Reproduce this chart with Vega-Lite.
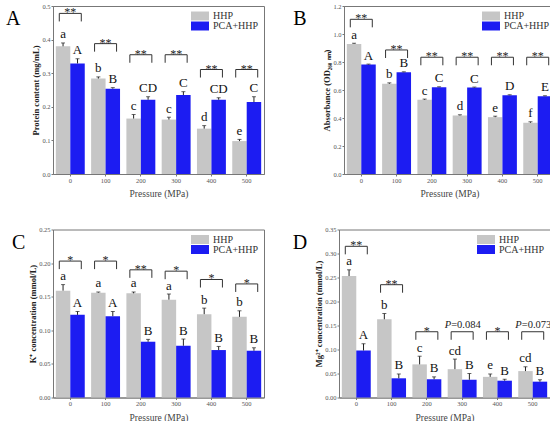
{
  "$schema": "https://vega.github.io/schema/vega-lite/v6.json",
  "padding": {"left": 5, "top": 2, "right": 3, "bottom": 0},
  "background": "white",
  "config": {
    "view": {"stroke": "#777", "strokeWidth": 1},
    "font": "Liberation Serif",
    "axis": {"labelFont": "Liberation Serif", "labelFontSize": 6.5, "labelColor": "#555", "titleFont": "Liberation Serif", "domainColor": "#777", "tickColor": "#777", "tickSize": 2, "grid": false, "labelOverlap": false},
    "axisY": {"titleFont": "Liberation Serif", "titleFontWeight": "bold", "titleFontSize": 8.5, "titleColor": "#222", "titlePadding": 1, "labelPadding": 1, "tickCount": 12},
    "axisX": {"titleFont": "Liberation Serif", "titleFontWeight": "normal", "titleFontSize": 9.5, "titleColor": "#444", "labelAngle": 0, "tickSize": 2, "titlePadding": 5, "labelPadding": 1},
    "legend": {"orient": "top-right", "offset": 5, "symbolType": "M-2,-1H2V1H-2Z", "symbolSize": 81, "labelFont": "Liberation Serif", "labelFontSize": 10, "labelColor": "#333", "rowPadding": 0, "symbolStrokeWidth": 0, "labelOffset": 8, "padding": 0},
    "title": {"orient": "left", "anchor": "end", "angle": 0, "align": "left", "baseline": "top", "dy": 6, "fontSize": 20, "font": "Liberation Serif", "fontWeight": "normal", "color": "#000"}
  },
  "datasets": {
    "Abar": [
      {"p": "0", "g": "HHP", "v": 0.38, "hi": 0.39, "lab": "a"},
      {"p": "0", "g": "PCA+HHP", "v": 0.329, "hi": 0.343, "lab": "A"},
      {"p": "100", "g": "HHP", "v": 0.284, "hi": 0.289, "lab": "b"},
      {"p": "100", "g": "PCA+HHP", "v": 0.254, "hi": 0.257, "lab": "B"},
      {"p": "200", "g": "HHP", "v": 0.165, "hi": 0.177, "lab": "c"},
      {"p": "200", "g": "PCA+HHP", "v": 0.221, "hi": 0.23, "lab": "CD"},
      {"p": "300", "g": "HHP", "v": 0.162, "hi": 0.169, "lab": "c"},
      {"p": "300", "g": "PCA+HHP", "v": 0.235, "hi": 0.245, "lab": "C"},
      {"p": "400", "g": "HHP", "v": 0.135, "hi": 0.144, "lab": "d"},
      {"p": "400", "g": "PCA+HHP", "v": 0.221, "hi": 0.227, "lab": "CD"},
      {"p": "500", "g": "HHP", "v": 0.098, "hi": 0.103, "lab": "e"},
      {"p": "500", "g": "PCA+HHP", "v": 0.214, "hi": 0.23, "lab": "C"}
    ],
    "Abr": [
      {"p": "0", "y": 0.478, "s": "**"},
      {"p": "100", "y": 0.388, "s": "**"},
      {"p": "200", "y": 0.355, "s": "**"},
      {"p": "300", "y": 0.355, "s": "**"},
      {"p": "400", "y": 0.311, "s": "**"},
      {"p": "500", "y": 0.311, "s": "**"}
    ],
    "Bbar": [
      {"p": "0", "g": "HHP", "v": 0.929, "hi": 0.934, "lab": "a"},
      {"p": "0", "g": "PCA+HHP", "v": 0.782, "hi": 0.785, "lab": "A"},
      {"p": "100", "g": "HHP", "v": 0.644, "hi": 0.651, "lab": "b"},
      {"p": "100", "g": "PCA+HHP", "v": 0.727, "hi": 0.73, "lab": "B"},
      {"p": "200", "g": "HHP", "v": 0.53, "hi": 0.535, "lab": "c"},
      {"p": "200", "g": "PCA+HHP", "v": 0.62, "hi": 0.623, "lab": "C"},
      {"p": "300", "g": "HHP", "v": 0.418, "hi": 0.423, "lab": "d"},
      {"p": "300", "g": "PCA+HHP", "v": 0.618, "hi": 0.621, "lab": "C"},
      {"p": "400", "g": "HHP", "v": 0.406, "hi": 0.413, "lab": "e"},
      {"p": "400", "g": "PCA+HHP", "v": 0.563, "hi": 0.566, "lab": "D"},
      {"p": "500", "g": "HHP", "v": 0.366, "hi": 0.373, "lab": "f"},
      {"p": "500", "g": "PCA+HHP", "v": 0.556, "hi": 0.559, "lab": "E"}
    ],
    "Bbr": [
      {"p": "0", "y": 1.105, "s": "**"},
      {"p": "100", "y": 0.886, "s": "**"},
      {"p": "200", "y": 0.834, "s": "**"},
      {"p": "300", "y": 0.834, "s": "**"},
      {"p": "400", "y": 0.834, "s": "**"},
      {"p": "500", "y": 0.834, "s": "**"}
    ],
    "Cbar": [
      {"p": "0", "g": "HHP", "v": 0.159, "hi": 0.168, "lab": "a"},
      {"p": "0", "g": "PCA+HHP", "v": 0.123, "hi": 0.128, "lab": "A"},
      {"p": "100", "g": "HHP", "v": 0.156, "hi": 0.157, "lab": "a"},
      {"p": "100", "g": "PCA+HHP", "v": 0.121, "hi": 0.128, "lab": "A"},
      {"p": "200", "g": "HHP", "v": 0.155, "hi": 0.157, "lab": "a"},
      {"p": "200", "g": "PCA+HHP", "v": 0.083, "hi": 0.0865, "lab": "B"},
      {"p": "300", "g": "HHP", "v": 0.1456, "hi": 0.154, "lab": "a"},
      {"p": "300", "g": "PCA+HHP", "v": 0.077, "hi": 0.087, "lab": "B"},
      {"p": "400", "g": "HHP", "v": 0.124, "hi": 0.133, "lab": "b"},
      {"p": "400", "g": "PCA+HHP", "v": 0.0706, "hi": 0.076, "lab": "B"},
      {"p": "500", "g": "HHP", "v": 0.12, "hi": 0.129, "lab": "b"},
      {"p": "500", "g": "PCA+HHP", "v": 0.0696, "hi": 0.074, "lab": "B"}
    ],
    "Cbr": [
      {"p": "0", "y": 0.203, "s": "*"},
      {"p": "100", "y": 0.203, "s": "*"},
      {"p": "200", "y": 0.19, "s": "**"},
      {"p": "300", "y": 0.188, "s": "*"},
      {"p": "400", "y": 0.1756, "s": "*"},
      {"p": "500", "y": 0.169, "s": "*"}
    ],
    "Dbar": [
      {"p": "0", "g": "HHP", "v": 0.253, "hi": 0.266, "lab": "a"},
      {"p": "0", "g": "PCA+HHP", "v": 0.098, "hi": 0.112, "lab": "A"},
      {"p": "100", "g": "HHP", "v": 0.163, "hi": 0.175, "lab": "b"},
      {"p": "100", "g": "PCA+HHP", "v": 0.04, "hi": 0.049, "lab": "B"},
      {"p": "200", "g": "HHP", "v": 0.069, "hi": 0.086, "lab": "c"},
      {"p": "200", "g": "PCA+HHP", "v": 0.038, "hi": 0.043, "lab": "B"},
      {"p": "300", "g": "HHP", "v": 0.059, "hi": 0.08, "lab": "cd"},
      {"p": "300", "g": "PCA+HHP", "v": 0.037, "hi": 0.05, "lab": "B"},
      {"p": "400", "g": "HHP", "v": 0.043, "hi": 0.049, "lab": "e"},
      {"p": "400", "g": "PCA+HHP", "v": 0.035, "hi": 0.038, "lab": "B"},
      {"p": "500", "g": "HHP", "v": 0.055, "hi": 0.064, "lab": "cd"},
      {"p": "500", "g": "PCA+HHP", "v": 0.033, "hi": 0.037, "lab": "B"}
    ],
    "Dbr": [
      {"p": "0", "y": 0.315, "s": "**"},
      {"p": "100", "y": 0.235, "s": "**"},
      {"p": "200", "y": 0.137, "s": "*"},
      {"p": "300", "y": 0.137, "s": "=0.084", "it": "P"},
      {"p": "400", "y": 0.137, "s": "*"},
      {"p": "500", "y": 0.137, "s": "=0.073", "it": "P"}
    ]
  },
  "resolve": {"scale": {"color": "independent"}, "legend": {"color": "independent"}},
  "spacing": 26.5,
  "vconcat": [
    {
      "spacing": 27,
      "resolve": {"scale": {"color": "independent"}, "legend": {"color": "independent"}},
      "hconcat": [
        {
          "width": 211, "height": 168,
          "title": {"text": "A", "offset": -3},
          "layer": [
            {"data": {"name": "Abar"}, "mark": {"type": "bar"},
             "encoding": {
               "x": {"field": "p", "type": "nominal", "sort": ["0","100","200","300","400","500"], "title": "Pressure (MPa)", "scale": {"paddingInner": 0.18, "paddingOuter": 0.08}},
               "xOffset": {"field": "g", "type": "nominal", "sort": ["HHP","PCA+HHP"]},
               "y": {"field": "v", "type": "quantitative", "title": "Protein content (mg/mL)", "scale": {"domain": [0, 0.5], "nice": false}, "axis": {"values": [0,0.1,0.2,0.3,0.4,0.5], "format": ".1f", "tickCount": 12}},
               "color": {"field": "g", "type": "nominal", "scale": {"domain": ["HHP","PCA+HHP"], "range": ["#c6c6c6", "#1c1cf2"]}, "legend": {"title": null}}
             }},
            {"data": {"name": "Abar"}, "mark": {"type": "rule", "color": "#222", "strokeWidth": 1},
             "encoding": {"x": {"field": "p", "type": "nominal"}, "xOffset": {"field": "g", "type": "nominal"}, "y": {"field": "v", "type": "quantitative", "scale": {"domain": [0, 0.5]}}, "y2": {"field": "hi"}}},
            {"data": {"name": "Abar"}, "mark": {"type": "tick", "color": "#222", "size": 4, "thickness": 1},
             "encoding": {"x": {"field": "p", "type": "nominal"}, "xOffset": {"field": "g", "type": "nominal"}, "y": {"field": "hi", "type": "quantitative", "scale": {"domain": [0, 0.5]}}}},
            {"data": {"name": "Abar"}, "mark": {"type": "text", "fontSize": 13, "baseline": "alphabetic", "dy": -4.5, "color": "#111"},
             "encoding": {"x": {"field": "p", "type": "nominal"}, "xOffset": {"field": "g", "type": "nominal"}, "y": {"field": "hi", "type": "quantitative", "scale": {"domain": [0, 0.5]}}, "text": {"field": "lab"}}},
            {"data": {"name": "Abr"}, "mark": {"type": "point", "shape": "M-1,0.73V0H1V0.73", "size": 484, "filled": false, "stroke": "#333", "strokeWidth": 1, "opacity": 1},
             "encoding": {"x": {"field": "p", "type": "nominal"}, "y": {"field": "y", "type": "quantitative", "scale": {"domain": [0, 0.5]}}}},
            {"data": {"name": "Abr"}, "mark": {"type": "text", "fontSize": 12, "baseline": "alphabetic", "dy": 3, "color": "#222"},
             "encoding": {"x": {"field": "p", "type": "nominal"}, "y": {"field": "y", "type": "quantitative", "scale": {"domain": [0, 0.5]}}, "text": {"field": "s"}}}
          ]
        },
        {
          "width": 211, "height": 168,
          "title": {"text": "B", "offset": 3},
          "layer": [
            {"data": {"name": "Bbar"}, "mark": {"type": "bar"},
             "encoding": {
               "x": {"field": "p", "type": "nominal", "sort": ["0","100","200","300","400","500"], "title": "Pressure (MPa)", "scale": {"paddingInner": 0.18, "paddingOuter": 0.08}},
               "xOffset": {"field": "g", "type": "nominal", "sort": ["HHP","PCA+HHP"]},
               "y": {"field": "v", "type": "quantitative", "title": "Absorbance (OD₂₆₀ ₙₘ)", "scale": {"domain": [0, 1.2], "nice": false}, "axis": {"values": [0,0.2,0.4,0.6,0.8,1.0,1.2], "format": ".1f", "tickCount": 12}},
               "color": {"field": "g", "type": "nominal", "scale": {"domain": ["HHP","PCA+HHP"], "range": ["#c6c6c6", "#1c1cf2"]}, "legend": {"title": null}}
             }},
            {"data": {"name": "Bbar"}, "mark": {"type": "rule", "color": "#222", "strokeWidth": 1},
             "encoding": {"x": {"field": "p", "type": "nominal"}, "xOffset": {"field": "g", "type": "nominal"}, "y": {"field": "v", "type": "quantitative", "scale": {"domain": [0, 1.2]}}, "y2": {"field": "hi"}}},
            {"data": {"name": "Bbar"}, "mark": {"type": "tick", "color": "#222", "size": 4, "thickness": 1},
             "encoding": {"x": {"field": "p", "type": "nominal"}, "xOffset": {"field": "g", "type": "nominal"}, "y": {"field": "hi", "type": "quantitative", "scale": {"domain": [0, 1.2]}}}},
            {"data": {"name": "Bbar"}, "mark": {"type": "text", "fontSize": 13, "baseline": "alphabetic", "dy": -4.5, "color": "#111"},
             "encoding": {"x": {"field": "p", "type": "nominal"}, "xOffset": {"field": "g", "type": "nominal"}, "y": {"field": "hi", "type": "quantitative", "scale": {"domain": [0, 1.2]}}, "text": {"field": "lab"}}},
            {"data": {"name": "Bbr"}, "mark": {"type": "point", "shape": "M-1,0.73V0H1V0.73", "size": 484, "filled": false, "stroke": "#333", "strokeWidth": 1, "opacity": 1},
             "encoding": {"x": {"field": "p", "type": "nominal"}, "y": {"field": "y", "type": "quantitative", "scale": {"domain": [0, 1.2]}}}},
            {"data": {"name": "Bbr"}, "mark": {"type": "text", "fontSize": 12, "baseline": "alphabetic", "dy": 3, "color": "#222"},
             "encoding": {"x": {"field": "p", "type": "nominal"}, "y": {"field": "y", "type": "quantitative", "scale": {"domain": [0, 1.2]}}, "text": {"field": "s"}}}
          ]
        }
      ]
    },
    {
      "spacing": 27,
      "resolve": {"scale": {"color": "independent"}, "legend": {"color": "independent"}},
      "hconcat": [
        {
          "width": 211, "height": 168,
          "title": {"text": "C", "offset": -10},
          "layer": [
            {"data": {"name": "Cbar"}, "mark": {"type": "bar"},
             "encoding": {
               "x": {"field": "p", "type": "nominal", "sort": ["0","100","200","300","400","500"], "title": "Pressure (MPa)", "scale": {"paddingInner": 0.18, "paddingOuter": 0.08}},
               "xOffset": {"field": "g", "type": "nominal", "sort": ["HHP","PCA+HHP"]},
               "y": {"field": "v", "type": "quantitative", "title": "K⁺ concentration (mmol/L)", "scale": {"domain": [0, 0.25], "nice": false}, "axis": {"values": [0,0.05,0.1,0.15,0.2,0.25], "format": ".2f", "tickCount": 12}},
               "color": {"field": "g", "type": "nominal", "scale": {"domain": ["HHP","PCA+HHP"], "range": ["#c6c6c6", "#1c1cf2"]}, "legend": {"title": null}}
             }},
            {"data": {"name": "Cbar"}, "mark": {"type": "rule", "color": "#222", "strokeWidth": 1},
             "encoding": {"x": {"field": "p", "type": "nominal"}, "xOffset": {"field": "g", "type": "nominal"}, "y": {"field": "v", "type": "quantitative", "scale": {"domain": [0, 0.25]}}, "y2": {"field": "hi"}}},
            {"data": {"name": "Cbar"}, "mark": {"type": "tick", "color": "#222", "size": 4, "thickness": 1},
             "encoding": {"x": {"field": "p", "type": "nominal"}, "xOffset": {"field": "g", "type": "nominal"}, "y": {"field": "hi", "type": "quantitative", "scale": {"domain": [0, 0.25]}}}},
            {"data": {"name": "Cbar"}, "mark": {"type": "text", "fontSize": 13, "baseline": "alphabetic", "dy": -4.5, "color": "#111"},
             "encoding": {"x": {"field": "p", "type": "nominal"}, "xOffset": {"field": "g", "type": "nominal"}, "y": {"field": "hi", "type": "quantitative", "scale": {"domain": [0, 0.25]}}, "text": {"field": "lab"}}},
            {"data": {"name": "Cbr"}, "mark": {"type": "point", "shape": "M-1,0.73V0H1V0.73", "size": 484, "filled": false, "stroke": "#333", "strokeWidth": 1, "opacity": 1},
             "encoding": {"x": {"field": "p", "type": "nominal"}, "y": {"field": "y", "type": "quantitative", "scale": {"domain": [0, 0.25]}}}},
            {"data": {"name": "Cbr"}, "mark": {"type": "text", "fontSize": 12, "baseline": "alphabetic", "dy": 3, "color": "#222"},
             "encoding": {"x": {"field": "p", "type": "nominal"}, "y": {"field": "y", "type": "quantitative", "scale": {"domain": [0, 0.25]}}, "text": {"field": "s"}}}
          ]
        },
        {
          "width": 211, "height": 168,
          "title": {"text": "D", "offset": -7},
          "layer": [
            {"data": {"name": "Dbar"}, "mark": {"type": "bar"},
             "encoding": {
               "x": {"field": "p", "type": "nominal", "sort": ["0","100","200","300","400","500"], "title": "Pressure (MPa)", "scale": {"paddingInner": 0.18, "paddingOuter": 0.08}},
               "xOffset": {"field": "g", "type": "nominal", "sort": ["HHP","PCA+HHP"]},
               "y": {"field": "v", "type": "quantitative", "title": "Mg²⁺ concentration (mmol/L)", "scale": {"domain": [0, 0.35], "nice": false}, "axis": {"values": [0,0.05,0.1,0.15,0.2,0.25,0.3,0.35], "format": ".2f", "tickCount": 12}},
               "color": {"field": "g", "type": "nominal", "scale": {"domain": ["HHP","PCA+HHP"], "range": ["#c6c6c6", "#1c1cf2"]}, "legend": {"title": null}}
             }},
            {"data": {"name": "Dbar"}, "mark": {"type": "rule", "color": "#222", "strokeWidth": 1},
             "encoding": {"x": {"field": "p", "type": "nominal"}, "xOffset": {"field": "g", "type": "nominal"}, "y": {"field": "v", "type": "quantitative", "scale": {"domain": [0, 0.35]}}, "y2": {"field": "hi"}}},
            {"data": {"name": "Dbar"}, "mark": {"type": "tick", "color": "#222", "size": 4, "thickness": 1},
             "encoding": {"x": {"field": "p", "type": "nominal"}, "xOffset": {"field": "g", "type": "nominal"}, "y": {"field": "hi", "type": "quantitative", "scale": {"domain": [0, 0.35]}}}},
            {"data": {"name": "Dbar"}, "mark": {"type": "text", "fontSize": 13, "baseline": "alphabetic", "dy": -4.5, "color": "#111"},
             "encoding": {"x": {"field": "p", "type": "nominal"}, "xOffset": {"field": "g", "type": "nominal"}, "y": {"field": "hi", "type": "quantitative", "scale": {"domain": [0, 0.35]}}, "text": {"field": "lab"}}},
            {"data": {"name": "Dbr"}, "mark": {"type": "point", "shape": "M-1,0.73V0H1V0.73", "size": 484, "filled": false, "stroke": "#333", "strokeWidth": 1, "opacity": 1},
             "encoding": {"x": {"field": "p", "type": "nominal"}, "y": {"field": "y", "type": "quantitative", "scale": {"domain": [0, 0.35]}}}},
            {"data": {"name": "Dbr"}, "transform": [{"filter": "!datum.it"}], "mark": {"type": "text", "fontSize": 12, "baseline": "alphabetic", "dy": 3, "color": "#222"},
             "encoding": {"x": {"field": "p", "type": "nominal"}, "y": {"field": "y", "type": "quantitative", "scale": {"domain": [0, 0.35]}}, "text": {"field": "s"}}},
            {"data": {"name": "Dbr"}, "transform": [{"filter": "datum.it"}], "mark": {"type": "text", "fontSize": 10.5, "fontStyle": "italic", "align": "right", "baseline": "alphabetic", "dy": -4, "xOffset": -11, "color": "#222"},
             "encoding": {"x": {"field": "p", "type": "nominal"}, "y": {"field": "y", "type": "quantitative", "scale": {"domain": [0, 0.35]}}, "text": {"field": "it"}}},
            {"data": {"name": "Dbr"}, "transform": [{"filter": "datum.it"}], "mark": {"type": "text", "fontSize": 10.5, "align": "left", "baseline": "alphabetic", "dy": -4, "xOffset": -11, "color": "#222"},
             "encoding": {"x": {"field": "p", "type": "nominal"}, "y": {"field": "y", "type": "quantitative", "scale": {"domain": [0, 0.35]}}, "text": {"field": "s"}}}
          ]
        }
      ]
    }
  ]
}
